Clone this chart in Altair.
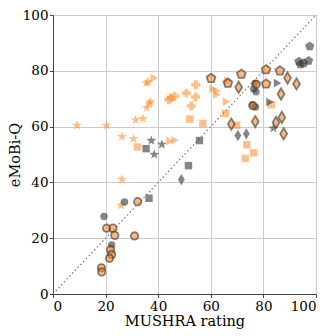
import altair as alt
import pandas as pd

# ---- data ----
orange_star_x = [9.1, 20.4, 26.2, 30.6, 31.4, 34.2, 35.6, 36.6, 37.0, 35.5, 36.2, 26.2, 25.9]
orange_star_y = [60.4, 60.4, 56.4, 55.6, 62.4, 62.9, 66.8, 68.2, 68.9, 75.6, 76.0, 41.1, 31.8]

orange_square_x = [32.1, 52.0, 57.0, 65.6, 69.8, 73.7, 76.3, 73.1, 83.0]
orange_square_y = [52.7, 62.7, 61.1, 64.7, 60.5, 53.5, 50.6, 48.6, 67.8]

orange_tri_x = [38.5, 46.4, 44.5, 60.8, 62.3, 62.3, 66.0, 66.5]
orange_tri_y = [77.4, 55.1, 54.8, 73.5, 72.8, 71.4, 68.9, 76.5]

orange_cross_x = [54.3, 50.7, 54.2, 52.6, 46.3, 44.9, 44.0]
orange_cross_y = [75.0, 72.0, 70.6, 67.4, 70.9, 70.3, 69.6]

gray_star_x = [37.4, 38.5, 41.4, 83.8]
gray_star_y = [55.0, 50.0, 53.6, 59.4]

gray_square_x = [35.4, 55.7, 51.5, 36.5]
gray_square_y = [52.1, 55.0, 46.0, 34.3]

gray_tri_x = [85.4, 82.5]
gray_tri_y = [75.6, 68.8]

gray_diamond_x = [70.3, 73.5, 48.8]
gray_diamond_y = [56.8, 57.4, 41.0]

gray_circle_x = [27.2, 19.4, 22.3, 76.8, 76.3, 77.2, 75.8, 77.0]
gray_circle_y = [33.0, 27.8, 17.6, 75.5, 73.5, 72.5, 67.8, 67.0]

gray_pentagon_x = [97.6, 93.5, 95.3, 97.2, 94.1]
gray_pentagon_y = [88.8, 83.3, 82.7, 83.6, 82.3]

edged_diamond_x = [70.6, 89.2, 92.6, 86.7, 67.8, 76.9, 87.0, 87.7, 84.8]
edged_diamond_y = [74.1, 77.4, 75.3, 71.7, 60.9, 61.8, 63.3, 57.4, 61.5]

edged_pentagon_x = [60.1, 71.6, 66.5, 81.0, 86.3, 81.0]
edged_pentagon_y = [77.3, 78.8, 75.6, 80.4, 80.0, 75.3]

edged_circle_x = [32.2, 20.4, 22.8, 23.5, 31.0, 21.9, 22.3, 21.5, 18.4, 18.5, 77.3, 76.0]
edged_circle_y = [33.1, 23.6, 23.6, 21.0, 20.8, 15.9, 14.2, 12.8, 9.4, 7.9, 75.2, 67.5]

diag = [0, 100]
ticks = [0, 20, 40, 60, 80, 100]

ORANGE = "#ff7f0e"
GRAY = "#333333"
THIN_DIAMOND = "M0,-1L0.6,0L0,1L-0.6,0Z"
PENTAGON = "M0,-1L0.951,-0.309L0.588,0.809L-0.588,0.809L-0.951,-0.309Z"
STAR = ("M0,-1L0.235,-0.324L0.951,-0.309L0.380,0.124L0.588,0.809L0,0.4"
        "L-0.588,0.809L-0.380,0.124L-0.951,-0.309L-0.235,-0.324Z")

xs = alt.Scale(domain=[0, 100], nice=False, zero=False)
ys = alt.Scale(domain=[0, 100], nice=False, zero=False)
xax = alt.Axis(values=ticks, title="MUSHRA rating")
yax = alt.Axis(values=ticks, title="eMoBi-Q", titleX=-31)


def pts(xv, yv, shape, size, style):
    df = pd.DataFrame({"x": xv, "y": yv})
    if style == "orange":
        mk = dict(fill=ORANGE, fillOpacity=0.5, strokeWidth=0)
    elif style == "gray":
        mk = dict(fill=GRAY, fillOpacity=0.6, strokeWidth=0)
    else:
        mk = dict(fill=ORANGE, fillOpacity=0.55, stroke=GRAY, strokeOpacity=0.6, strokeWidth=1.8)
    return alt.Chart(df).mark_point(filled=True, shape=shape, size=size, opacity=1, **mk).encode(
        x=alt.X("x:Q", scale=xs, axis=xax),
        y=alt.Y("y:Q", scale=ys, axis=yax),
    )


diag_df = pd.DataFrame({"x": diag, "y": diag})
diag_line = alt.Chart(diag_df).mark_line(color="#777777", strokeDash=[1.5, 2.5], strokeWidth=1.2).encode(
    x=alt.X("x:Q", scale=xs, axis=xax),
    y=alt.Y("y:Q", scale=ys, axis=yax),
)

layers = [
    diag_line,
    pts(orange_star_x, orange_star_y, STAR, 110, "orange"),
    pts(orange_square_x, orange_square_y, "square", 55, "orange"),
    pts(orange_tri_x, orange_tri_y, "triangle-right", 75, "orange"),
    pts(orange_cross_x, orange_cross_y, "cross", 80, "orange"),
    pts(gray_star_x, gray_star_y, STAR, 110, "gray"),
    pts(gray_square_x, gray_square_y, "square", 55, "gray"),
    pts(gray_tri_x, gray_tri_y, "triangle-right", 75, "gray"),
    pts(gray_diamond_x, gray_diamond_y, THIN_DIAMOND, 130, "gray"),
    pts(gray_circle_x, gray_circle_y, "circle", 55, "gray"),
    pts(gray_pentagon_x, gray_pentagon_y, PENTAGON, 95, "gray"),
    pts(edged_diamond_x, edged_diamond_y, THIN_DIAMOND, 130, "edged"),
    pts(edged_pentagon_x, edged_pentagon_y, PENTAGON, 85, "edged"),
    pts(edged_circle_x, edged_circle_y, "circle", 55, "edged"),
]

chart = alt.layer(*layers).properties(
    width=263, height=279,
    autosize=alt.AutoSizeParams(type="none"),
    padding={"left": 45, "top": 7, "right": 5, "bottom": 36},
).configure_axis(
    labelFont="DejaVu Serif", titleFont="DejaVu Serif",
    labelFontSize=13.5, titleFontSize=14.5, titleFontWeight="normal",
    labelColor="black", titleColor="black",
    domainColor="#444444", tickColor="#444444", tickSize=3.5,
    gridColor="#cccccc", gridWidth=1, labelPadding=1.5,
).configure_axisX(titlePadding=2).configure_view(
    stroke="#444444", strokeWidth=1
)

chart.save("out.html", embed_options={"renderer": "svg", "actions": False})
